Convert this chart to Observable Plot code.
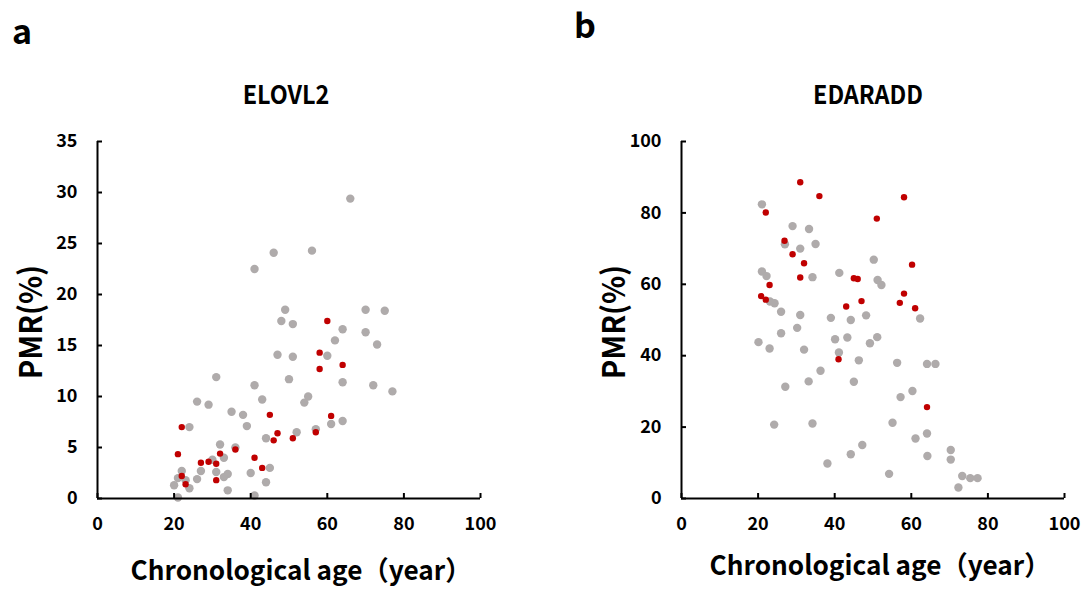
<!DOCTYPE html>
<html>
<head>
<meta charset="utf-8">
<script src="https://cdn.jsdelivr.net/npm/d3@7"></script>
<script src="https://cdn.jsdelivr.net/npm/@observablehq/plot@0.6"></script>
<style>
  html, body { margin: 0; padding: 0; background: #fff; }
  #root { position: relative; width: 1086px; height: 590px; overflow: hidden;
          font-family: "Noto Sans CJK JP", "Noto Sans", sans-serif; color: #000; }
  .abs { position: absolute; white-space: nowrap; }
  .panel { font-weight: bold; font-size: 34px; line-height: 1.2; }
  .title { font-weight: bold; font-size: 26px; line-height: 1; transform: translateX(-50%) scaleX(0.9); }
  .xlab { font-weight: bold; font-size: 27px; line-height: 1; transform: translateX(-50%) scaleX(0.97); }
  .ylab { font-weight: bold; font-size: 31px; line-height: 1; transform: translate(-50%, -50%) rotate(-90deg) scaleX(0.94); }
</style>
</head>
<body>
<div id="root"></div>
<script>
// ---- Data ----
// Panel a: ELOVL2 — gray group
const elovl2GrayAge = [66,46,56,41,49,70,75,48,51,64,70,62,73,47,51,60,31,50,41,64,72,77,43,26,29,55,54,35,38,39,24,64,61,57,52,44,32,36,33,30,27,22,31,45,40,34,33,26,21,23,20,24,44,34,21,41];
const elovl2GrayPMR = [29.4,24.1,24.3,22.5,18.5,18.5,18.4,17.4,17.1,16.6,16.3,15.5,15.1,14.1,13.9,14.0,11.9,11.7,11.1,11.4,11.1,10.5,9.7,9.5,9.2,10.0,9.4,8.5,8.2,7.1,7.0,7.6,7.3,6.8,6.5,5.9,5.3,5.0,4.0,3.8,2.7,2.7,2.6,3.0,2.5,2.4,2.1,1.9,2.0,1.8,1.3,1.0,1.6,0.8,0.1,0.3];
// Panel a: ELOVL2 — red group
const elovl2RedAge = [60,58,58,64,45,61,22,47,46,51,57,21,36,32,27,29,31,41,43,22,23,31];
const elovl2RedPMR = [17.4,14.3,12.7,13.1,8.2,8.1,7.0,6.4,5.7,5.9,6.5,4.35,4.8,4.4,3.5,3.6,3.4,4.0,3.0,2.2,1.4,1.8];

// Panel b: EDARADD — gray group
const edaraddGrayAge = [21,29,33.3,27,31,35,50.2,21,22.2,34.2,41.2,51.2,52.2,23.1,24.3,26,31,39,44.2,48.2,62.3,30.2,26,20.1,23,32,40.1,43.3,49.2,51.1,41.1,46.3,56.3,64.1,66.3,36.3,27.1,33.2,45,60.3,57.2,24.2,34.2,55.1,64.1,61.1,47.2,44.2,64.2,70.3,70.3,38.1,54.2,73.3,75.4,77.3,72.3];
const edaraddGrayPMR = [82.4,76.3,75.5,71.2,70.0,71.3,66.9,63.6,62.3,62.0,63.2,61.2,59.8,55.2,54.7,52.3,51.4,50.6,50.0,51.3,50.4,47.8,46.3,43.8,42.0,41.7,44.6,45.1,43.5,45.2,40.9,38.7,38.0,37.7,37.7,35.8,31.3,32.8,32.7,30.1,28.4,20.7,21.0,21.2,18.2,16.8,15.0,12.4,11.9,13.6,10.9,9.8,6.9,6.3,5.7,5.7,3.1];
// Panel b: EDARADD — red group
const edaraddRedAge = [31,36,58.1,22,51,26.9,29,32,60.2,31,45,46,23,58.1,20.8,22,47,43,57,61,41,64.1];
const edaraddRedPMR = [88.6,84.7,84.4,80.1,78.4,72.2,68.4,65.9,65.5,61.9,61.7,61.5,59.8,57.4,56.7,55.7,55.3,53.8,54.8,53.3,39.0,25.6];

const xTicks = [0, 20, 40, 60, 80, 100];
const yTicksA = [0, 5, 10, 15, 20, 25, 30, 35];
const yTicksB = [0, 20, 40, 60, 80, 100];

const GRAY = "#afabab";
const RED = "#c00000";

function zip(ages, vals) { return ages.map((a, i) => ({age: a, pmr: vals[i]})); }

function panel({grayAge, grayPMR, redAge, redPMR, yMax, yTicks, width, marginLeft, marginRight}) {
  const height = 590, marginTop = 141, marginBottom = 92, tick = 5;
  const innerH = height - marginTop - marginBottom;
  const innerW = width - marginLeft - marginRight;
  return Plot.plot({
    width, height,
    marginLeft, marginRight, marginTop, marginBottom,
    style: {fontFamily: '"Noto Sans CJK JP", "Noto Sans", sans-serif', fontSize: "18px", color: "#000", background: "transparent"},
    x: {domain: [0, 100]},
    y: {domain: [0, yMax]},
    marks: [
      Plot.dot(zip(grayAge, grayPMR), {x: "age", y: "pmr", r: 4.2, fill: GRAY}),
      Plot.dot(zip(redAge, redPMR), {x: "age", y: "pmr", r: 3.2, fill: RED}),
      Plot.axisX({ticks: xTicks, tickSize: 0, tickPadding: 19, label: null, fontWeight: 600}),
      Plot.axisY({ticks: yTicks, tickSize: 0, tickPadding: 20, label: null, fontWeight: 600}),
      // short inward tick marks
      Plot.tickX(xTicks, {x: d => d, insetTop: innerH - tick, stroke: "#000", strokeWidth: 2}),
      Plot.tickY(yTicks, {y: d => d, insetRight: innerW - tick, stroke: "#000", strokeWidth: 2}),
      Plot.ruleY([0], {stroke: "#000", strokeWidth: 2}),
      Plot.ruleX([0], {stroke: "#000", strokeWidth: 2})
    ]
  });
}

const root = document.getElementById("root");

const a = panel({grayAge: elovl2GrayAge, grayPMR: elovl2GrayPMR, redAge: elovl2RedAge, redPMR: elovl2RedPMR,
  yMax: 35, yTicks: yTicksA, width: 543, marginLeft: 97, marginRight: 63});
a.style.position = "absolute"; a.style.left = "0px"; a.style.top = "0px";
root.appendChild(a);

const b = panel({grayAge: edaraddGrayAge, grayPMR: edaraddGrayPMR, redAge: edaraddRedAge, redPMR: edaraddRedPMR,
  yMax: 100, yTicks: yTicksB, width: 543, marginLeft: 138, marginRight: 22});
b.style.position = "absolute"; b.style.left = "543px"; b.style.top = "0px";
root.appendChild(b);

function label(cls, text, left, top) {
  const d = document.createElement("div");
  d.className = "abs " + cls;
  d.textContent = text;
  d.style.left = left + "px"; d.style.top = top + "px";
  root.appendChild(d);
}
label("panel", "a", 12, 10);
label("panel", "b", 574, 4);
label("title", "ELOVL2", 286, 80);
label("title", "EDARADD", 868, 80);
label("xlab", "Chronological age（year）", 301, 555);
label("xlab", "Chronological age（year）", 880, 550);
label("ylab", "PMR(%)", 28, 322);
label("ylab", "PMR(%)", 611, 322);
</script>
</body>
</html>
